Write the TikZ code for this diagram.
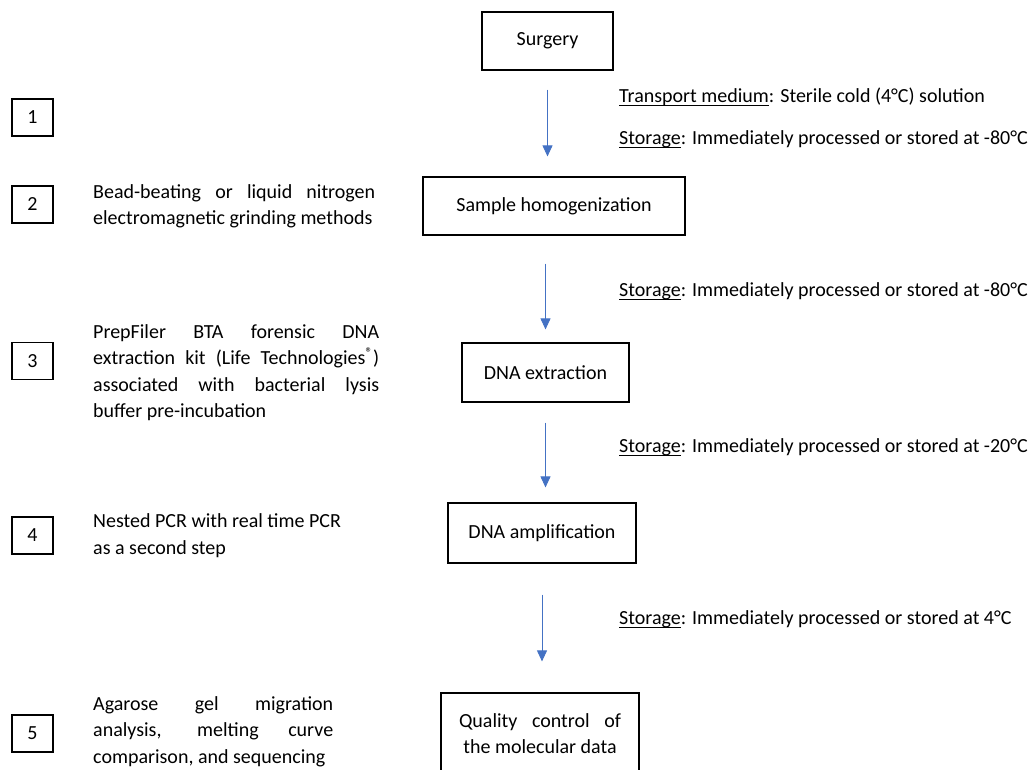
\documentclass[tikz,border=0pt]{standalone}
\usepackage{fontspec}
\setmainfont{Carlito}
\usepackage{amsmath}
\usepackage{tikz}
\usetikzlibrary{arrows.meta,calc}

\definecolor{arrowblue}{HTML}{4472C4}

\tikzset{
    stepbox/.style={draw, line width=1.2pt, inner sep=0pt, align=center},
    numbox/.style={draw, line width=1.2pt, minimum width=41pt, minimum height=37pt, inner sep=0pt},
    note/.style={anchor=west, inner sep=0pt, align=left},
    flow/.style={draw=arrowblue, line width=0.9pt, -{Triangle[width=10pt,length=11pt]}}
}

% one justified line of a given width
\newcommand{\jline}[2]{\makebox[#1][s]{#2}}
% underlined word, rule just under the baseline
\newcommand{\uword}[1]{$\underline{\smash{\text{#1}}}$}

\begin{document}
\begin{tikzpicture}[x=1pt, y=-1pt, font=\fontsize{20}{26.5}\selectfont]

    \useasboundingbox (0,0) rectangle (1035,769);

    % 1. main steps in the middle column
    \node[stepbox, minimum width=131pt, minimum height=58pt] (surgery) at (547.5,41) {Surgery};
    \node[stepbox, minimum width=262pt, minimum height=58pt] (homog)   at (554,206)  {Sample homogenization};
    \node[stepbox, minimum width=167pt, minimum height=59pt] (extract) at (545.5,372.5) {DNA extraction};
    \node[stepbox, minimum width=188pt, minimum height=60pt] (amplif)  at (542,533) {DNA amplification};
    \node[stepbox, minimum width=198pt, minimum height=81pt] (quality) at (540,733.5)
        {\jline{162pt}{Quality control of}\\the molecular data};

    % 2. blue arrows between the steps
    \draw[flow, shorten <=19pt, shorten >=20pt] (surgery.south) -- (surgery.south |- homog.north);
    \draw[flow, shorten <=28pt, shorten >=13pt] (extract.north |- homog.south) -- (extract.north);
    \draw[flow, shorten <=20pt, shorten >=15pt] (extract.south) -- (extract.south |- amplif.north);
    \draw[flow, shorten <=31pt, shorten >=31pt] (amplif.south) -- (amplif.south |- quality.north);

    % 3. conditions on the right
    \node[note] (transport) at (619,97)  {\uword{Transport medium}: Sterile cold (4°C) solution};
    \node[note] (store1)    at (619,140) {\uword{Storage}: Immediately processed or stored at -80°C};
    \node[note] (store2)    at (619,292) {\uword{Storage}: Immediately processed or stored at -80°C};
    \node[note] (store3)    at (619,448) {\uword{Storage}: Immediately processed or stored at -20°C};
    \node[note] (store4)    at (619,620) {\uword{Storage}: Immediately processed or stored at 4°C};

    % 4. numbered boxes on the left
    \node[numbox] (n1) at (32.5,117.5) {1};
    \node[numbox] (n2) at (32.5,204.5) {2};
    \node[numbox] (n3) at (32.5,361)   {3};
    \node[numbox] (n4) at (32.5,535.5) {4};
    \node[numbox] (n5) at (32.5,733.5) {5};

    % 5. methods beside the numbers
    \node[note] (m2) at (93,206.5)
        {\jline{282pt}{Bead-beating or liquid nitrogen}\\electromagnetic grinding methods};
    \node[note] (m3) at (93,372.5)
        {\jline{286pt}{PrepFiler BTA forensic DNA}\\
         \jline{286pt}{extraction kit (Life Technologies\textsuperscript{®})}\\
         \jline{286pt}{associated with bacterial lysis}\\
         buffer pre-incubation};
    \node[note] (m4) at (93,535.5)
        {Nested PCR with real time PCR\\as a second step};
    \node[note] (m5) at (93,731.5)
        {\jline{240pt}{Agarose gel migration}\\
         \jline{240pt}{analysis, melting curve}\\
         comparison, and sequencing};

\end{tikzpicture}
\end{document}
